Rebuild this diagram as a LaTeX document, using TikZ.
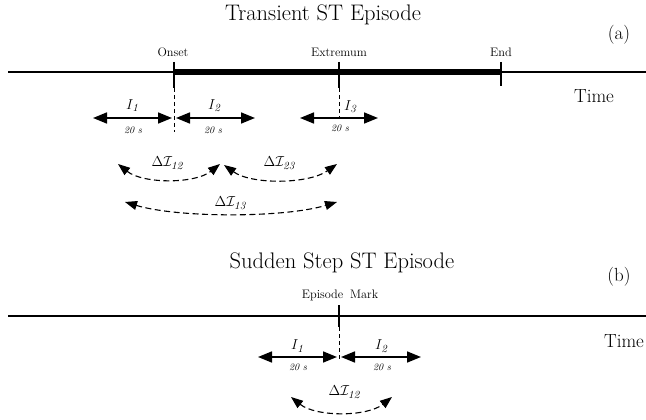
\documentclass[tikz,border=0pt]{standalone}
\usetikzlibrary{arrows.meta}
\begin{document}
\begin{tikzpicture}[x=1pt,y=-1pt]
\tikzset{
 ttl/.style={font=\fontsize{22.5}{26}\selectfont, inner sep=0pt},
 tag/.style={font=\fontsize{19}{22}\selectfont, inner sep=0pt},
 evt/.style={font=\fontsize{12.3}{14}\selectfont, inner sep=0pt},
 ilab/.style={font=\fontsize{15.5}{18}\selectfont, inner sep=0pt},
 dur/.style={font=\fontsize{10}{12}\selectfont\itshape, inner sep=0pt},
 axisline/.style={line width=1.8pt},
 spanline/.style={line width=5.5pt},
 tickline/.style={line width=1.2pt},
 guide/.style={line width=1pt, dash pattern=on 4pt off 3pt},
 iarrow/.style={line width=1.6pt, {Triangle[length=14pt,width=11pt]}-{Triangle[length=14pt,width=11pt]}},
 darc/.style={line width=1.1pt, dash pattern=on 6pt off 3.5pt, {Triangle[length=12pt,width=9pt]}-{Triangle[length=12pt,width=9pt]}},
}
\useasboundingbox (0,0) rectangle (646,420);

% ---------------- panel (a) ----------------
\node[ttl] (ta) at (323,15) {Transient ST Episode};
\node[tag] (la) at (619,35) {(a)};
\coordinate (aL) at (8,72);
\coordinate (aR) at (646,72);
\draw[axisline] (aL) -- (aR);
\coordinate (on) at (174,72);
\coordinate (ex) at (339,72);
\coordinate (en) at (501,72);
\draw[spanline] (on) -- (en);
\node[evt] (onl) at (173,52) {Onset};
\node[evt] (exl) at (339,52) {Extremum};
\node[evt] (enl) at (501,52) {End};
\coordinate (onT) at (174,62); \coordinate (onB) at (174,88); \coordinate (onD) at (174,132);
\coordinate (exT) at (339,62); \coordinate (exB) at (339,88); \coordinate (exD) at (339,118);
\coordinate (enT) at (501,62); \coordinate (enB) at (501,86);
\draw[tickline] (onT) -- (onB);
\draw[tickline] (exT) -- (exB);
\draw[tickline] (enT) -- (enB);
\draw[guide] (onB) -- (onD);
\draw[guide] (exB) -- (exD);
\node[tag] (tia) at (594,96) {Time};

\coordinate (i1a) at (93,118); \coordinate (i1b) at (172,118);
\coordinate (i2a) at (176,118); \coordinate (i2b) at (255,118);
\coordinate (i3a) at (300,118); \coordinate (i3b) at (378,118);
\draw[iarrow] (i1a) -- (i1b);
\draw[iarrow] (i2a) -- (i2b);
\draw[iarrow] (i3a) -- (i3b);
\node[ilab] (I1) at (133,106) {$I_{\mathit{1}}$};
\node[ilab] (I2) at (215,106) {$I_{\mathit{2}}$};
\node[ilab] (I3) at (351,107) {$I_{\mathit{3}}$};
\node[dur] (d1) at (133,130) {20 s};
\node[dur] (d2) at (213,130) {20 s};
\node[dur] (d3) at (340,128) {20 s};

\coordinate (a12) at (118,164); \coordinate (b12) at (220,164);
\coordinate (a23) at (224,165); \coordinate (b23) at (337,164);
\coordinate (a13) at (125,202); \coordinate (b13) at (337,202);
\draw[darc] (a12) .. controls (143,184) and (195,184) .. (b12);
\draw[darc] (a23) .. controls (252,185) and (309,184) .. (b23);
\draw[darc] (a13) .. controls (178,218) and (284,218) .. (b13);
\node[ilab] (D12) at (168,163) {$\Delta\mathcal{I}_{\mathit{12}}$};
\node[ilab] (D23) at (280,163) {$\Delta\mathcal{I}_{\mathit{23}}$};
\node[ilab] (D13) at (231,203) {$\Delta\mathcal{I}_{\mathit{13}}$};

% ---------------- panel (b) ----------------
\node[ttl] (tb) at (342,263) {Sudden Step ST Episode};
\node[tag] (lb) at (619,277) {(b)};
\coordinate (bL) at (8,316);
\coordinate (bR) at (646,316);
\draw[axisline] (bL) -- (bR);
\node[evt] (eml) at (340,295) {Episode\hspace{0.55em}Mark};
\coordinate (emT) at (339,305); \coordinate (emB) at (339,327); \coordinate (emD) at (339,359);
\draw[tickline] (emT) -- (emB);
\draw[guide] (emB) -- (emD);
\node[tag] (tib) at (624,341) {Time};

\coordinate (j1a) at (258,357); \coordinate (j1b) at (337,357);
\coordinate (j2a) at (341,357); \coordinate (j2b) at (421,357);
\draw[iarrow] (j1a) -- (j1b);
\draw[iarrow] (j2a) -- (j2b);
\node[ilab] (J1) at (298,346) {$I_{\mathit{1}}$};
\node[ilab] (J2) at (382,346) {$I_{\mathit{2}}$};
\node[dur] (e1) at (298,367) {20 s};
\node[dur] (e2) at (382,367) {20 s};

\coordinate (c12) at (291,397); \coordinate (f12) at (392,397);
\draw[darc] (c12) .. controls (316,417) and (367,417) .. (f12);
\node[ilab] (E12) at (345,392) {$\Delta\mathcal{I}_{\mathit{12}}$};
\end{tikzpicture}
\end{document}
